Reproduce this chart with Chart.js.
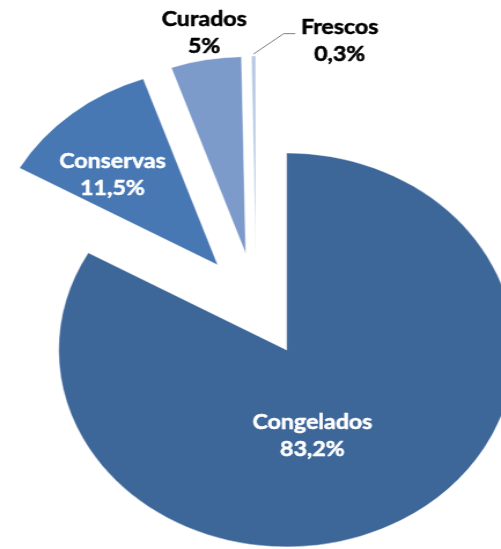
<!DOCTYPE html>
<html>
<head>
<meta charset="utf-8">
<script src="https://cdn.jsdelivr.net/npm/chart.js@4.4.1/dist/chart.umd.min.js"></script>
<style>
  html, body { margin: 0; padding: 0; background: #fff; overflow: hidden; }
  /* the original picture is stretched sideways, so the whole canvas is too */
  #wrap { width: 433px; height: 549px; transform: scaleX(1.157); transform-origin: 0 0; }
</style>
</head>
<body>
<div id="wrap"><canvas id="chart" width="433" height="549"></canvas></div>
<script>
// dados
const categories = ['Congelados', 'Conservas', 'Curados', 'Frescos'];
const shares = [83.2, 11.5, 5, 0.3];
const sliceColors = ['#3d6699', '#4878b3', '#7c9aca', '#b6c8e3'];

// afastamento de todas as fatias (estilo "explodido" do Excel)
const EXPLODE = 52;

// onde cada rótulo fica: desvio do meio da fatia (graus) e distância ao centro
const labelPlace = [
  { shift: 9.8, dist: 139, color: '#ffffff' },
  { shift: -3.9, dist: 180, color: '#ffffff' },
  { shift: 0.7, dist: 276, color: '#000000' },
  { shift: 15.8, dist: 274, color: '#000000', leader: true }
];

const fmt = v => String(v).replace('.', ',') + '%';

// o offset nativo do Chart.js muda o raio de cada fatia, por isso
// cada arco é deslocado aqui e desenhado pelo próprio elemento
const explodeSlices = {
  id: 'explodeSlices',
  beforeDatasetDraw(chart, args) {
    const ctx = chart.ctx;
    args.meta.data.forEach(arc => {
      const p = arc.getProps(['startAngle', 'endAngle'], true);
      const mid = (p.startAngle + p.endAngle) / 2;
      ctx.save();
      ctx.translate(Math.cos(mid) * EXPLODE, Math.sin(mid) * EXPLODE);
      arc.draw(ctx);
      ctx.restore();
    });
    return false;
  }
};

const sliceLabels = {
  id: 'sliceLabels',
  afterDatasetsDraw(chart) {
    const ctx = chart.ctx;
    const meta = chart.getDatasetMeta(0);
    ctx.save();
    ctx.font = 'bold 20px Lato';
    ctx.textAlign = 'center';
    ctx.textBaseline = 'middle';
    ctx.lineJoin = 'round';
    meta.data.forEach((arc, i) => {
      const p = arc.getProps(['x', 'y', 'startAngle', 'endAngle', 'outerRadius'], true);
      const place = labelPlace[i];
      const mid = (p.startAngle + p.endAngle) / 2;
      const a = mid + place.shift * Math.PI / 180;
      const lx = p.x + Math.cos(a) * place.dist;
      const ly = p.y + Math.sin(a) * place.dist;

      if (place.leader) {
        const edge = p.outerRadius + EXPLODE;
        const sx = p.x + Math.cos(mid) * edge;
        const sy = p.y + Math.sin(mid) * edge;
        const left = lx - ctx.measureText(categories[i]).width / 2;
        ctx.strokeStyle = '#7f7f7f';
        ctx.lineWidth = 1;
        ctx.beginPath();
        ctx.moveTo(sx, sy - 2);
        ctx.lineTo(left - 15, ly - 7);
        ctx.lineTo(left - 5, ly - 7);
        ctx.stroke();
      }

      // traço fino por cima para engrossar um pouco a letra
      ctx.fillStyle = place.color;
      ctx.strokeStyle = place.color;
      ctx.lineWidth = 0.5;
      [[categories[i], ly - 13], [fmt(shares[i]), ly + 14]].forEach(([t, ty]) => {
        ctx.fillText(t, lx, ty);
        ctx.strokeText(t, lx, ty);
      });
    });
    ctx.restore();
  }
};

new Chart(document.getElementById('chart'), {
  type: 'pie',
  data: {
    labels: categories,
    datasets: [{
      data: shares,
      backgroundColor: sliceColors,
      borderColor: 'rgba(255,255,255,0.45)',
      borderWidth: 1,
      offset: 0,
      hoverOffset: 0,
      clip: false
    }]
  },
  options: {
    responsive: false,
    animation: false,
    radius: 197,
    layout: { padding: { left: 10, right: 0, top: 61, bottom: 0 } },
    plugins: {
      legend: { display: false },
      tooltip: { enabled: false }
    }
  },
  plugins: [explodeSlices, sliceLabels]
});
</script>
</body>
</html>
